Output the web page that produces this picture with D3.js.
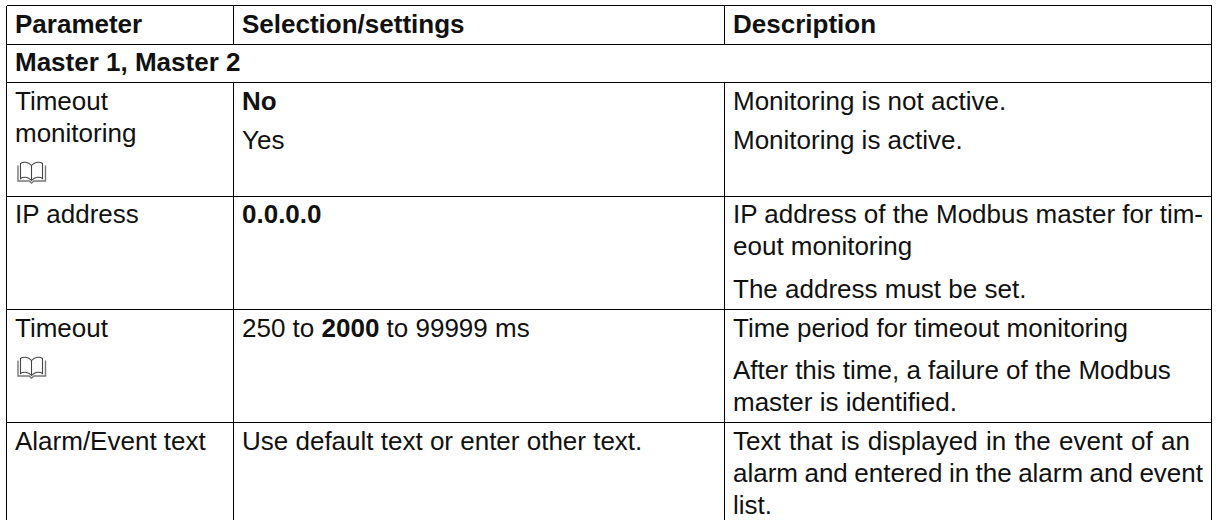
<!DOCTYPE html>
<html><head><meta charset="utf-8">
<script src="https://cdn.jsdelivr.net/npm/d3@7/dist/d3.min.js"></script>
<style>html,body{margin:0;padding:0;background:#fff}svg{display:block}text{font-family:"Liberation Sans",Arial,sans-serif;fill:#111;white-space:pre}</style>
</head><body><script>
const headers=["Parameter","Selection/settings","Description"];
const sectionTitle="Master 1, Master 2";
const parameterCells=[["Timeout","monitoring"],["IP address"],["Timeout"],["Alarm/Event text"]];
const selectionCells=[["**No**","Yes"],["**0.0.0.0**"],["250 to **2000** to 99999 ms"],["Use default text or enter other text."]];
const descriptionCells=[["Monitoring is not active.","Monitoring is active."],["IP address of the Modbus master for tim-","eout monitoring","The address must be set."],["Time period for timeout monitoring","After this time, a failure of the Modbus","master is identified."],["Text that is displayed in the event of an","alarm and entered in the alarm and event","list."]];
const hasBook=[true,false,true,false];

const W=1221,H=520,fs=26;
const colEdges=[6.5,233.5,724.5,1211.5];
const rowEdges=[5.5,44.5,82.5,196.5,309.5,422.5,520];
const svg=d3.select("body").append("svg").attr("width",W).attr("height",H);
const colX=d3.scaleOrdinal().domain(d3.range(4)).range(colEdges);
const rowY=d3.scaleOrdinal().domain(d3.range(7)).range(rowEdges);
const g=svg.append("g").attr("stroke","#000").attr("stroke-width",1.3).attr("shape-rendering","crispEdges");
d3.range(6).forEach(i=>g.append("line").attr("x1",colX(0)).attr("x2",colX(3)).attr("y1",rowY(i)).attr("y2",rowY(i)));
[0,3].forEach(c=>g.append("line").attr("x1",colX(c)).attr("x2",colX(c)).attr("y1",rowY(0)).attr("y2",H));
[1,2].forEach(c=>{
  g.append("line").attr("x1",colX(c)).attr("x2",colX(c)).attr("y1",rowY(0)).attr("y2",rowY(1));
  g.append("line").attr("x1",colX(c)).attr("x2",colX(c)).attr("y1",rowY(2)).attr("y2",H);
});
function put(x,y,str,bold){
  const t=svg.append("text").attr("x",x).attr("y",y).attr("font-size",fs);
  str.split("**").forEach((p,i)=>{ if(p) t.append("tspan").attr("font-weight",(i%2||bold)?"bold":"normal").text(p); });
  return t;
}
// justified lines in the description column: right end of the line
function fit(t,str,x,end){
  const n=t.node().getComputedTextLength(), spaces=str.split(" ").length-1;
  t.style("word-spacing",((end-x-n)/spaces)+"px");
}
headers.forEach((h,c)=>put(colX(c)+8.5,32.5,h,true));
put(colX(0)+8.5,70.5,sectionTitle,true);
const baseCol0=[[110,142],[223],[336.5],[450]];
const baseCol1=[[110,148.5],[223],[336.5],[450]];
const baseCol2=[[110,148.5],[223,255,297.5],[336.5,379,411],[450,482,514]];
const fitEnds=[[1,0,1203],[3,0,1190],[3,1,1203]];
function stack(cells,c,bases){
  cells.forEach((lines,r)=>lines.forEach((l,i)=>{
    const x=colX(c)+8.5, t=put(x,bases[r][i],l,false);
    if(c===2) fitEnds.filter(f=>f[0]===r&&f[1]===i).forEach(f=>fit(t,l,x,f[2]));
  }));
}
stack(parameterCells,0,baseCol0);stack(selectionCells,1,baseCol1);stack(descriptionCells,2,baseCol2);
hasBook.forEach((b,r)=>{
  if(!b) return;
  const y0=rowY(r+2)+(r===0?78:46), x0=colX(0)+10.5;
  const k=svg.append("g").attr("transform",`translate(${x0},${y0})`).attr("fill","none").attr("stroke","#444").attr("stroke-width",1.1);
  k.append("path").attr("d","M14.5 5C11 1 6 1 3.5 3V18C6 16 11 16 14.5 20C18 16 23 16 25.5 18V3C23 1 18 1 14.5 5V20");
  k.append("path").attr("d","M1 5V20.5H12L14.5 22.5L17 20.5H28.5V5").attr("stroke","#777").attr("stroke-width",1.4);
});
</script></body></html>
